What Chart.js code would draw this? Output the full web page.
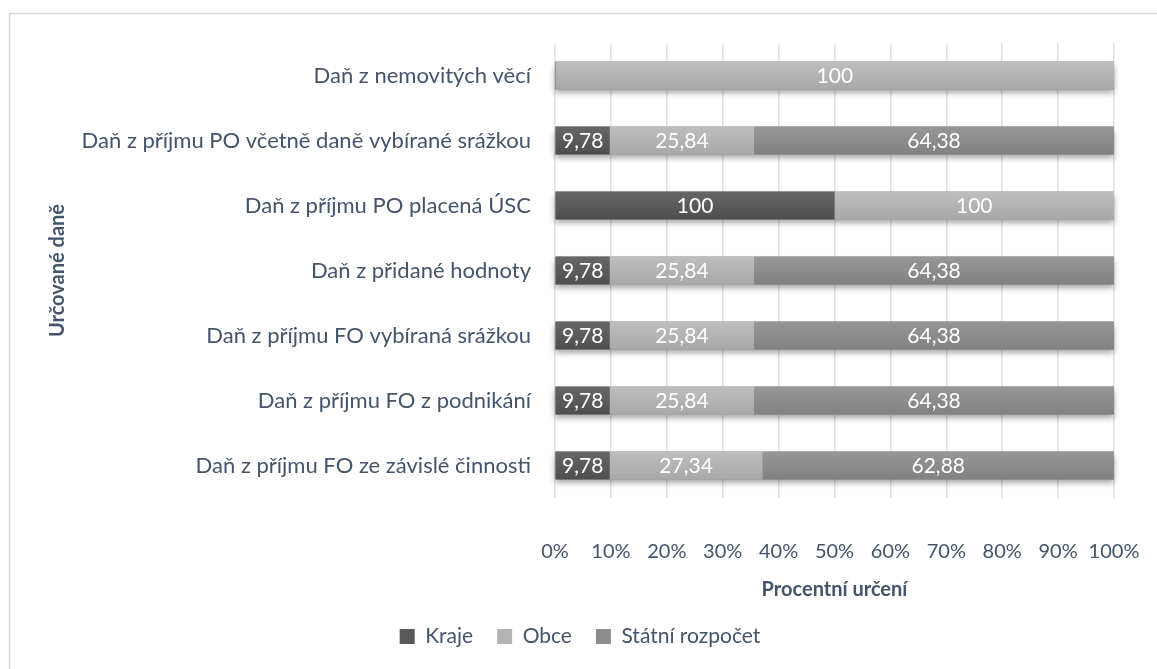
<!DOCTYPE html>
<html>
<head>
<meta charset="utf-8">
<script src="https://cdn.jsdelivr.net/npm/chart.js@4/dist/chart.umd.min.js"></script>
<style>
  html, body { margin: 0; padding: 0; background: #ffffff; overflow: hidden; }
  #wrap { position: relative; width: 1157px; height: 669px; }
</style>
</head>
<body>
<div id="wrap"><canvas id="c" width="1157" height="669"></canvas></div>
<script>
// ---- data ----
const categories = [
  'Daň z nemovitých věcí',
  'Daň z příjmu PO včetně daně vybírané srážkou',
  'Daň z příjmu PO placená ÚSC',
  'Daň z přidané hodnoty',
  'Daň z příjmu FO vybíraná srážkou',
  'Daň z příjmu FO z podnikání',
  'Daň z příjmu FO ze závislé činnosti'
];
const seriesNames = ['Kraje', 'Obce', 'Státní rozpočet'];
const kraje  = [0, 9.78, 100, 9.78, 9.78, 9.78, 9.78];
const obce   = [100, 25.84, 100, 25.84, 25.84, 25.84, 27.34];
const statni = [0, 64.38, 0, 64.38, 64.38, 64.38, 62.88];
const xTickLabels = ['0%','10%','20%','30%','40%','50%','60%','70%','80%','90%','100%'];
const xTitle = 'Procentní určení';
const yTitle = 'Určované daně';

// ---- 100% stacking ----
const rawSeries = [kraje, obce, statni];
const totals = categories.map((_, i) => rawSeries.reduce((s, arr) => s + arr[i], 0));
const pct = arr => arr.map((v, i) => totals[i] ? v / totals[i] * 100 : 0);

const TEXT = '#44546a';
const FONT = 'Lato';
const BAR_PCT = 0.43;
const PAD_LEFT = 46;

function barHalf(chart) {
  const y = chart.scales.y;
  return (y.height / categories.length) * BAR_PCT / 2;
}
function grad(top, bot) {
  return (ctx) => {
    const chart = ctx.chart;
    const y = chart.scales && chart.scales.y;
    if (!y || ctx.type !== 'data' || !y.height) return bot;
    const c = y.getPixelForValue(ctx.dataIndex);
    const h = barHalf(chart);
    const g = chart.ctx.createLinearGradient(0, c - h, 0, c + h);
    g.addColorStop(0, top);
    g.addColorStop(1, bot);
    return g;
  };
}

const colors = [
  { top: '#676767', bot: '#4e4e4e', flat: '#595959' },
  { top: '#bebebe', bot: '#a8a8a8', flat: '#b4b4b4' },
  { top: '#979797', bot: '#818181', flat: '#8c8c8c' }
];

const datasets = rawSeries.map((arr, k) => ({
  label: seriesNames[k],
  data: pct(arr),
  raw: arr,
  backgroundColor: grad(colors[k].top, colors[k].bot),
  borderWidth: 0,
  barPercentage: BAR_PCT,
  categoryPercentage: 1.0
}));

// frame + shadow + labels plugin
const decor = {
  id: 'decor',
  beforeDraw(chart) {
    const ctx = chart.ctx;
    ctx.save();
    ctx.strokeStyle = '#d9d9d9';
    ctx.lineWidth = 1.5;
    ctx.strokeRect(9.5, 13.5, 1400, 900);
    ctx.restore();
  },
  beforeDatasetsDraw(chart) {
    const ctx = chart.ctx;
    const x = chart.scales.x, y = chart.scales.y;
    const h = barHalf(chart);
    ctx.save();
    ctx.shadowColor = 'rgba(0,0,0,0.35)';
    ctx.shadowBlur = 6;
    ctx.shadowOffsetY = 4;
    ctx.fillStyle = '#8c8c8c';
    categories.forEach((_, i) => {
      const c = y.getPixelForValue(i);
      const x0 = x.getPixelForValue(0), x1 = x.getPixelForValue(100);
      ctx.fillRect(x0, c - h, x1 - x0, 2 * h);
    });
    ctx.restore();
  },
  afterDatasetsDraw(chart) {
    const ctx = chart.ctx;
    ctx.save();
    ctx.fillStyle = '#ffffff';
    ctx.font = '21px ' + FONT;
    ctx.textAlign = 'center';
    ctx.textBaseline = 'middle';
    chart.data.datasets.forEach((ds, di) => {
      const meta = chart.getDatasetMeta(di);
      meta.data.forEach((el, i) => {
        const v = ds.raw[i];
        if (!v) return;
        const p = el.getCenterPoint();
        ctx.fillText(String(v).replace('.', ','), p.x, p.y + 1);
      });
    });
    ctx.restore();
  }
};

new Chart(document.getElementById('c'), {
  type: 'bar',
  data: { labels: categories, datasets },
  plugins: [decor],
  options: {
    indexAxis: 'y',
    responsive: false,
    animation: false,
    events: [],
    layout: { padding: { left: PAD_LEFT, right: 43, top: 43, bottom: 12 } },
    scales: {
      x: {
        stacked: true,
        min: 0, max: 100,
        ticks: {
          stepSize: 10,
          padding: 42,
          maxRotation: 0, minRotation: 0, autoSkip: false,
          color: TEXT,
          font: { family: FONT, size: 20 },
          callback: (v, i) => xTickLabels[i]
        },
        grid: { color: '#dde1e8', lineWidth: 1.5, drawTicks: false },
        border: { display: false },
        title: {
          display: true, text: xTitle, color: TEXT,
          font: { family: FONT, size: 20, weight: 'bold' },
          padding: { top: 10, bottom: 0 }
        },
        afterFit(scale) {
          scale.height = 104;
          scale.paddingLeft = 0;
          scale.paddingRight = 0;
        }
      },
      y: {
        stacked: true,
        ticks: { color: TEXT, font: { family: FONT, size: 22 }, padding: 24 },
        grid: { display: false, drawTicks: false },
        border: { display: false },
        title: {
          display: true, text: yTitle, color: TEXT,
          font: { family: FONT, size: 20, weight: 'bold' },
          padding: { top: 0, bottom: 0 }
        },
        afterFit(scale) { scale.width = 555 - PAD_LEFT; }
      }
    },
    plugins: {
      legend: {
        position: 'bottom',
        labels: {
          color: TEXT,
          font: { family: FONT, size: 21 },
          boxWidth: 15, boxHeight: 15,
          padding: 24,
          generateLabels(chart) {
            return chart.data.datasets.map((ds, i) => ({
              text: ds.label, fillStyle: colors[i].flat, strokeStyle: colors[i].flat,
              lineWidth: 0, hidden: false, datasetIndex: i, fontColor: TEXT
            }));
          }
        }
      },
      tooltip: { enabled: false }
    }
  }
});
</script>
</body>
</html>
